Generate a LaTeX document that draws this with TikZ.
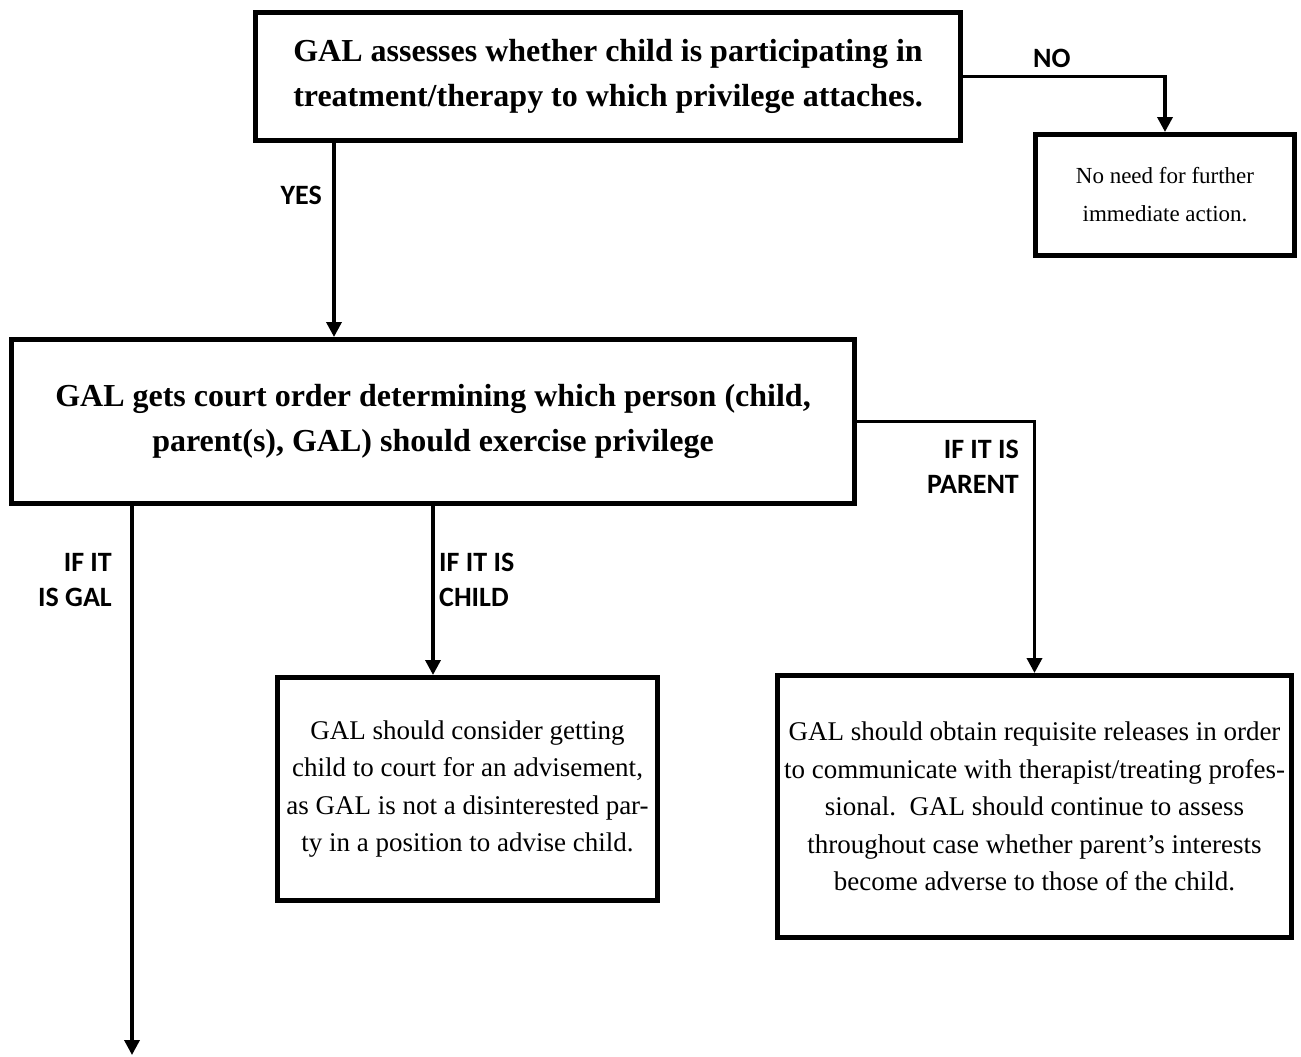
\documentclass[tikz,border=0pt]{standalone}
\usepackage{fontspec}
\setmainfont{Liberation Serif}
\newfontfamily\lblfont{Carlito}
\usetikzlibrary{arrows.meta,calc}
\begin{document}
\begin{tikzpicture}[x=1pt,y=-1pt,
  boxstyle/.style={draw, line width=5pt, rectangle, align=center, inner sep=0pt},
  bigtext/.style={font=\fontsize{32}{45}\selectfont\bfseries},
  normtext/.style={font=\fontsize{27}{37.5}\selectfont},
  smalltext/.style={font=\fontsize{23}{38}\selectfont},
  lbl/.style={font=\lblfont\bfseries\fontsize{28}{35}\selectfont, inner sep=0pt},
  conn/.style={line width=3.5pt, -{Triangle[width=15pt,length=15pt]}},
  plainline/.style={line width=3.5pt}]
\fill[white] (0,0) rectangle (1301,1057);
\useasboundingbox (0,0) rectangle (1301,1057);

\node[boxstyle, bigtext, minimum width=705pt, minimum height=128pt] (assess) at (608,76.5)
  {GAL assesses whether child is participating in\\treatment/therapy to which privilege attaches.};
\node[boxstyle, smalltext, minimum width=259pt, minimum height=121pt] (noact) at (1165,195)
  {No need for further\\immediate action.};
\node[boxstyle, bigtext, minimum width=843pt, minimum height=164pt] (order) at (433,421.5)
  {GAL gets court order determining which person (child,\\parent(s), GAL) should exercise privilege};
\node[boxstyle, normtext, minimum width=380pt, minimum height=223pt] (child) at (467.5,789)
  {GAL should consider getting\\child to court for an advisement,\\as GAL is not a disinterested par-\\ty in a position to advise child.};
\node[boxstyle, normtext, minimum width=514pt, minimum height=262pt] (parent) at (1034.5,806.5)
  {GAL should obtain requisite releases in order\\to communicate with therapist/treating profes-\\sional.\ \ GAL should continue to assess\\throughout case whether parent’s interests\\become adverse to those of the child.};

\coordinate (yesx) at (334,0);
\coordinate (galend) at (132,1055);

\draw[conn] (assess.south -| yesx) -- (order.north -| yesx);
\draw[conn] (assess.east) -| (noact.north);
\draw[conn] (order.south) -- (child.north -| order.south);
\draw[conn] (order.east) -| (parent.north);
\draw[conn] (order.south -| galend) -- (galend);

\node[lbl, anchor=east] (lyes) at (322,195) {YES};
\node[lbl, anchor=west] (lno) at (1033,58) {NO};
\node[lbl, anchor=east, align=right] (lgal) at (112,580) {IF IT\\IS GAL};
\node[lbl, anchor=west, align=left] (lchild) at (439,580) {IF IT IS\\CHILD};
\node[lbl, anchor=east, align=right] (lparent) at (1019,467) {IF IT IS\\PARENT};
\end{tikzpicture}
\end{document}
